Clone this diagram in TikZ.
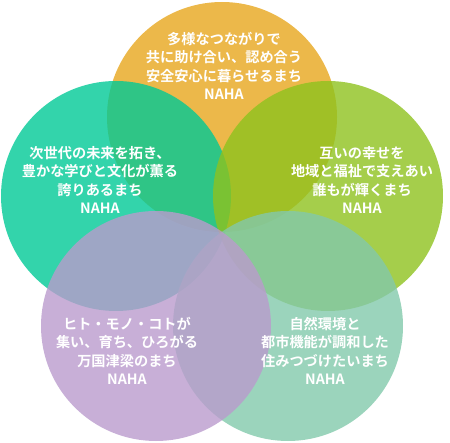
\documentclass[tikz,border=0pt]{standalone}
\usepackage{fontspec}
\newfontfamily\jpfont{Noto Sans CJK JP Bold}
\definecolor{corange}{RGB}{231,166,29}
\definecolor{cteal}{RGB}{0,201,150}
\definecolor{cgreen}{RGB}{142,194,30}
\definecolor{cmint}{RGB}{130,201,171}
\definecolor{cpurple}{RGB}{186,155,205}
\begin{document}
\begin{tikzpicture}[x=1pt,y=1pt,
  petal/.style={circle,minimum size=230pt,inner sep=0pt,fill opacity=0.8,draw=none},
  lbl/.style={text=white,align=center,font=\jpfont\fontsize{14.2}{18.5}\selectfont,inner sep=0pt}]
\useasboundingbox (0,0) rectangle (450,442);
\node[petal,fill=corange] (top) at (222,325) {};
\node[petal,fill=cteal] (left) at (116,246) {};
\node[petal,fill=cgreen] (right) at (328,246) {};
\node[petal,fill=cmint] (br) at (288,116) {};
\node[petal,fill=cpurple] (bl) at (156,116) {};
\node[lbl] (ttop) at (224,376) {多様なつながりで\\共に助け合い、認め合う\\安全安心に暮らせるまち\\NAHA};
\node[lbl] (tleft) at (100,262) {次世代の未来を拓き、\\豊かな学びと文化が薫る\\誇りあるまち\\NAHA};
\node[lbl] (tright) at (362,262) {互いの幸せを\\地域と福祉で支えあい\\誰もが輝くまち\\NAHA};
\node[lbl] (tbl) at (127,91) {ヒト・モノ・コトが\\集い、育ち、ひろがる\\万国津梁のまち\\NAHA};
\node[lbl] (tbr) at (325,91) {自然環境と\\都市機能が調和した\\住みつづけたいまち\\NAHA};
\end{tikzpicture}
\end{document}
